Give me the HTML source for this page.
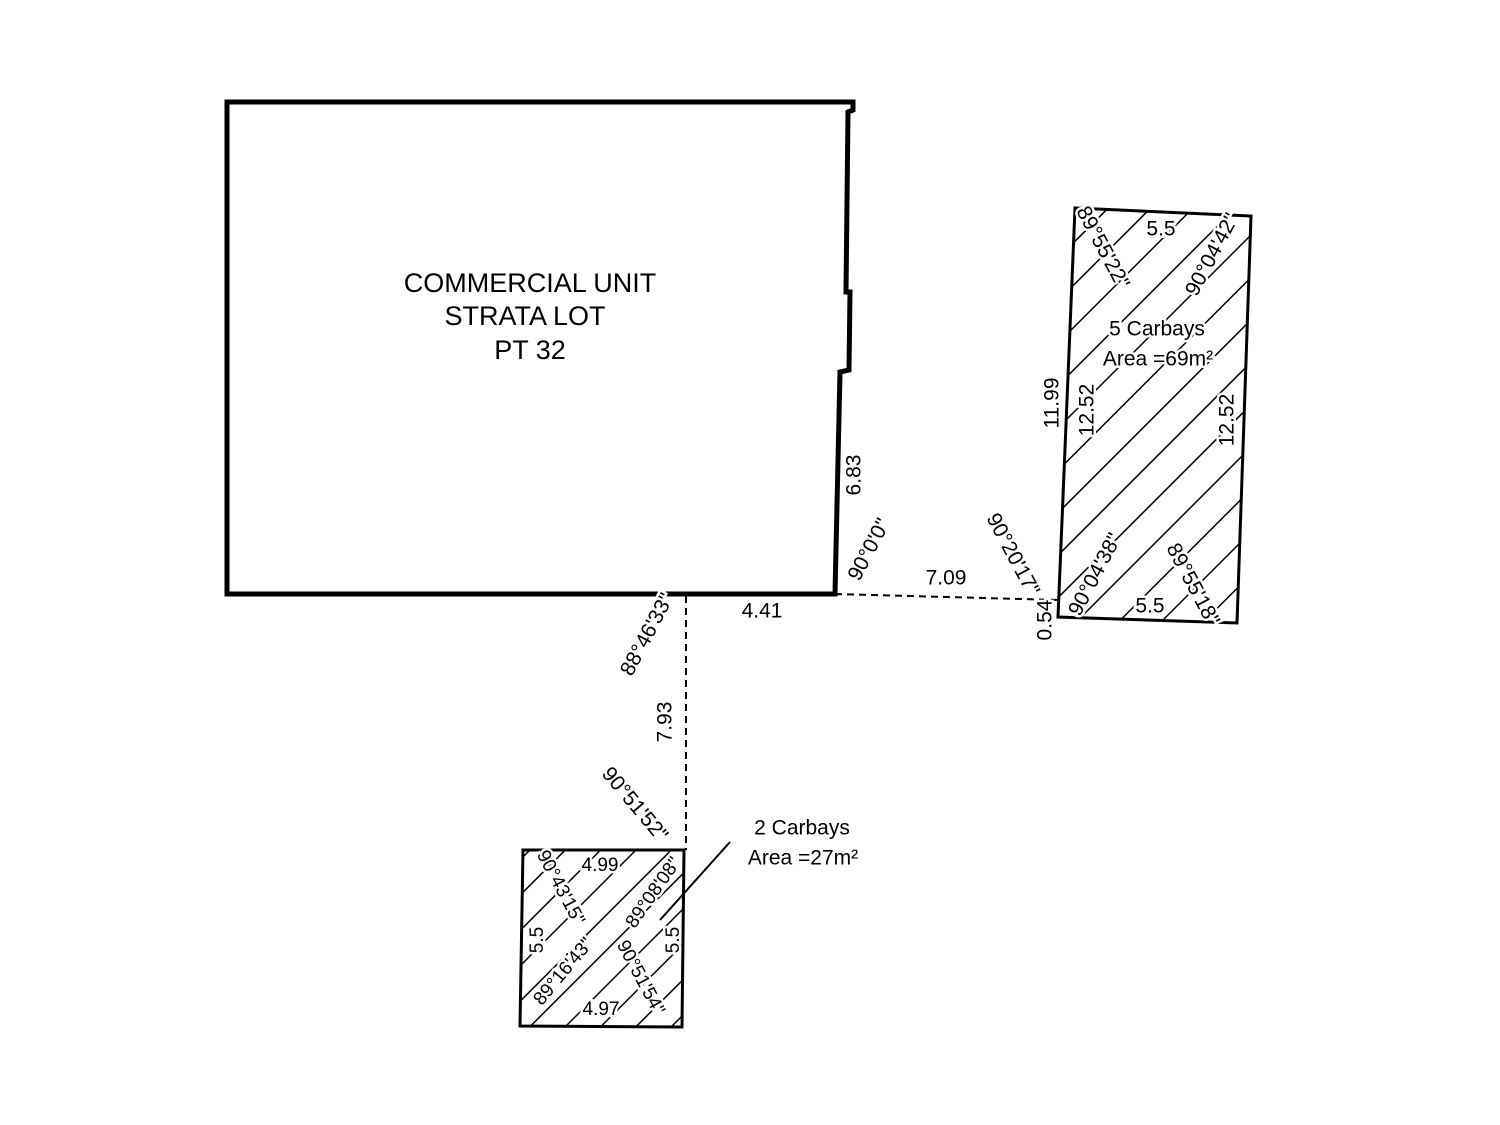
<!DOCTYPE html>
<html><head><meta charset="utf-8"><style>html,body{margin:0;padding:0;background:#fff}svg{display:block}</style></head><body>
<svg width="1500" height="1125" viewBox="0 0 1500 1125" xmlns="http://www.w3.org/2000/svg" font-family="Liberation Sans, sans-serif" fill="#000">
<defs>
<pattern id="h1" patternUnits="userSpaceOnUse" width="30" height="30" patternTransform="rotate(45)">
<line x1="0" y1="0" x2="0" y2="30" stroke="#000" stroke-width="3"/></pattern>
<pattern id="h2" patternUnits="userSpaceOnUse" width="25" height="25" patternTransform="rotate(45)">
<line x1="0" y1="0" x2="0" y2="25" stroke="#000" stroke-width="3"/></pattern>
</defs>
<path d="M227,102 L853,102 L853,110 L848,112 L846,292 L850,292 L849,370 L840,372 L835,594 L227,594 Z" fill="none" stroke="#000" stroke-width="5"/>
<polygon points="1075,208 1251,216 1237,623 1058,617" fill="url(#h1)" stroke="#000" stroke-width="3"/>
<polygon points="523,850 684,850 682,1027 520,1026" fill="url(#h2)" stroke="#000" stroke-width="3"/>
<line x1="835" y1="594" x2="1058" y2="600" stroke="#000" stroke-width="2" stroke-dasharray="7,5"/>
<line x1="686" y1="596" x2="686" y2="850" stroke="#000" stroke-width="2" stroke-dasharray="7,5"/>
<line x1="730" y1="842" x2="660" y2="920" stroke="#000" stroke-width="2"/>
<g font-size="21" text-anchor="middle" stroke="#fff" stroke-width="5" paint-order="stroke" dominant-baseline="middle">
<text x="530" y="285" font-size="27">COMMERCIAL UNIT</text>
<text x="525" y="318" font-size="27">STRATA LOT</text>
<text x="530" y="352" font-size="27">PT 32</text>
<text transform="translate(855,475) rotate(-90)">6.83</text>
<text transform="translate(870,550) rotate(-62)">90°0'0"</text>
<text x="762" y="612">4.41</text>
<text x="946" y="579">7.09</text>
<text transform="translate(1012,555) rotate(62)">90°20'17"</text>
<text transform="translate(1046,620) rotate(-90)">0.54</text>
<text transform="translate(648,635) rotate(-62)">88°46'33"</text>
<text transform="translate(666,722) rotate(-90)">7.93</text>
<text transform="translate(634,805) rotate(50)">90°51'52"</text>
<text x="802" y="829">2 Carbays</text>
<text x="803" y="859">Area =27m²</text>
<text transform="translate(1102,248) rotate(62)">89°55'22"</text>
<text x="1161" y="230">5.5</text>
<text transform="translate(1213,255) rotate(-62)">90°04'42"</text>
<text x="1157" y="330">5 Carbays</text>
<text x="1158" y="360">Area =69m²</text>
<text transform="translate(1053,403) rotate(-90)">11.99</text>
<text transform="translate(1088,410) rotate(-90)">12.52</text>
<text transform="translate(1228,420) rotate(-90)">12.52</text>
<text transform="translate(1096,575) rotate(-62)">90°04'38"</text>
<text transform="translate(1192,585) rotate(62)">89°55'18"</text>
<text x="1150" y="607">5.5</text>
<text transform="translate(560,888) rotate(62)" font-size="19">90°43'15"</text>
<text x="600" y="866" font-size="19">4.99</text>
<text transform="translate(654,893) rotate(-55)" font-size="19">89°08'08"</text>
<text transform="translate(538,940) rotate(-90)" font-size="19">5.5</text>
<text transform="translate(674,940) rotate(-90)" font-size="19">5.5</text>
<text transform="translate(564,972) rotate(-50)" font-size="19">89°16'43"</text>
<text transform="translate(640,978) rotate(62)" font-size="19">90°51'54"</text>
<text x="601" y="1010" font-size="19">4.97</text>
</g>
</svg>
</body></html>
